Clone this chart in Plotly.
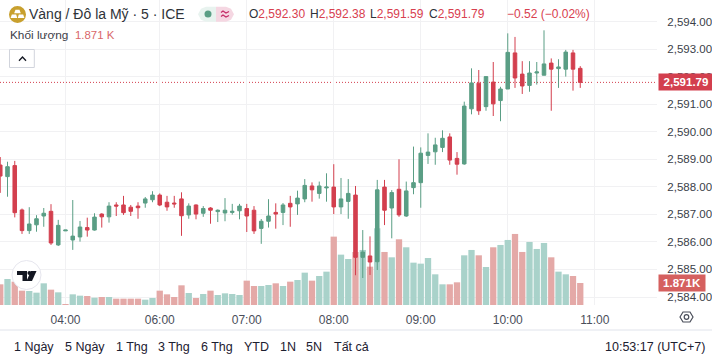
import plotly.graph_objects as go

opens = [2588.79,2588.37,2588.77,2587.16,2586.41,2586.62,2586.94,2587.11,2585.89,2586.40,
2586.07,2586.18,2586.52,2586.43,2587.01,2586.91,2587.34,2587.34,2587.26,2587.30,
2587.41,2587.53,2587.70,2587.44,2587.41,2587.56,2586.98,2587.34,2587.04,2587.23,
2587.10,2587.05,2587.07,2587.13,2587.21,2587.15,2586.49,2586.75,2587.07,2587.07,
2587.40,2587.38,2587.56,2588.03,2587.76,2587.96,2587.99,2587.27,2587.47,2587.70,
2585.44,2585.49,2585.28,2587.99,2587.23,2587.91,2586.94,2587.97,2588.15,2589.14,
2589.27,2589.43,2589.81,2589.03,2588.83,2590.83,2591.76,2590.91,2591.80,2591.13,
2591.55,2592.86,2592.09,2591.68,2592.13,2592.05,2592.49,2592.29,2592.27,2592.86,2592.30]
highs = [2589.08,2588.91,2588.94,2587.21,2587.26,2586.97,2587.23,2587.37,2586.80,2586.43,
2587.52,2586.76,2586.88,2587.04,2587.04,2587.44,2587.44,2587.67,2587.34,2587.44,
2587.63,2587.84,2587.76,2587.67,2587.67,2587.80,2587.40,2587.36,2587.30,2587.26,
2587.18,2587.59,2587.38,2587.38,2587.38,2587.30,2586.83,2587.55,2587.40,2587.41,
2587.67,2587.86,2588.28,2588.16,2588.19,2588.49,2588.82,2588.32,2588.28,2588.03,
2586.43,2586.20,2588.25,2588.25,2587.88,2589.00,2588.19,2589.46,2589.43,2589.94,
2589.78,2590.05,2589.94,2589.26,2591.09,2592.30,2592.24,2592.00,2592.53,2591.63,
2593.57,2593.44,2592.56,2592.56,2592.53,2593.68,2592.66,2592.63,2592.97,2592.97,2592.38]
lows = [2587.78,2587.64,2586.89,2586.29,2586.29,2586.37,2586.55,2585.89,2585.85,2586.40,
2585.71,2586.01,2586.19,2586.41,2586.52,2586.70,2586.94,2586.98,2586.94,2586.84,
2587.24,2587.44,2587.30,2587.13,2587.24,2586.22,2586.84,2586.82,2586.91,2586.66,
2586.72,2586.75,2586.99,2586.82,2586.36,2586.29,2585.93,2586.52,2586.48,2586.61,
2586.55,2586.98,2587.44,2587.46,2587.57,2587.46,2587.01,2587.01,2586.84,2584.79,
2584.69,2584.80,2584.98,2586.61,2586.13,2586.91,2586.91,2587.73,2587.24,2588.83,
2588.80,2589.26,2588.80,2588.44,2588.80,2590.63,2590.61,2590.76,2590.57,2590.38,
2591.55,2591.59,2591.37,2591.45,2591.71,2592.05,2590.76,2591.59,2592.00,2591.49,2591.59]
closes = [2588.39,2588.73,2587.06,2586.41,2586.65,2586.84,2587.04,2585.96,2586.60,2586.43,
2586.21,2586.54,2586.43,2586.90,2586.91,2587.30,2587.30,2587.06,2587.11,2587.24,
2587.56,2587.70,2587.34,2587.27,2587.38,2586.95,2587.30,2587.01,2587.21,2587.15,
2587.15,2587.15,2587.11,2587.30,2586.94,2586.40,2586.75,2586.94,2587.01,2587.34,
2587.27,2587.59,2588.05,2587.89,2588.03,2587.99,2587.27,2587.56,2587.76,2585.44,
2585.63,2585.27,2587.89,2587.15,2587.79,2586.98,2587.85,2588.15,2589.22,2589.26,
2589.52,2589.76,2588.97,2588.82,2590.93,2591.77,2590.76,2592.00,2591.01,2591.55,
2592.88,2591.95,2591.66,2592.13,2592.17,2592.46,2592.27,2592.35,2592.89,2592.27,2591.79]
volumes = [1758,2211,1985,1219,1191,1049,1843,1304,1077,85,
907,794,765,624,680,680,539,539,539,539,
454,595,1219,907,680,1673,1021,595,936,1219,
850,992,936,850,2070,1616,1616,1701,1843,1616,
1985,2126,2750,2070,2466,2835,5812,4281,3912,4508,
4678,3260,6520,4508,4054,5585,4905,3600,3515,3997,
2608,1758,1758,1928,4224,4678,4224,3232,4905,5103,
5528,6039,4508,5358,4763,5273,4054,2835,2608,2466,1871]
vol_dir = list("rgrrgggrgrggrgrgrrrrggrrrrgrgrggggrrggrgrggrggrggrgrgrgrggggggrrggrgrggrrgggrggrr")
price_ticks = [2584,2585,2586,2587,2588,2589,2590,2591,2592,2593,2594]
time_pos = [9,22,34,46,58,70,82]
time_labels = ["04:00","06:00","07:00","08:00","09:00","10:00","11:00"]
ranges = ["1 Ngày","5 Ngày","1 Thg","3 Thg","6 Thg","YTD","1N","5N","Tất cả"]
range_x = [13,64,115,157,200,243,279,305,333]
last_price = "2,591.79"
last_volume = "1.871K"

FONT = "Liberation Sans, Arial, sans-serif"
GREEN = "#5A9E85"; RED = "#D33F4E"
VGREEN = "#A9D2CA"; VRED = "#E4A9A7"
PW, PH = 657, 305
px = lambda x: x / PW
py = lambda y: 1 - y / PH

x = list(range(len(opens)))
fig = go.Figure()
fig.add_trace(go.Bar(x=x, y=volumes, yaxis="y", xaxis="x",
    marker=dict(color=[VGREEN if d == "g" else VRED for d in vol_dir], line=dict(width=0)),
    hoverinfo="skip", showlegend=False))
fig.add_trace(go.Candlestick(x=x, open=opens, high=highs, low=lows, close=closes, yaxis="y2", xaxis="x",
    increasing=dict(line=dict(color=GREEN, width=1), fillcolor=GREEN),
    decreasing=dict(line=dict(color=RED, width=1), fillcolor=RED),
    whiskerwidth=0, hoverinfo="skip", showlegend=False))

ann = []
def text(x_, y_, t, size=12, color="#131722", anchor="left", family=FONT):
    ann.append(dict(xref="paper", yref="paper", x=px(x_), y=py(y_), text=t, showarrow=False,
        xanchor=anchor, yanchor="middle", align=anchor, xshift=0, yshift=0, borderpad=0,
        font=dict(size=size, color=color, family=family)))

text(27.5, 14, "Vàng / Đô la Mỹ · 5 · ICE", 14, "#2E3238")
R = "#D8404F"
def s(c, t): return f'<span style="color:{c}">{t}</span>'
text(248, 14, "O" + s(R, "2,592.30"), 12, "#2E3238")
text(309, 14, "H" + s(R, "2,592.38"), 12, "#2E3238")
text(369, 14, "L" + s(R, "2,591.59"), 12, "#2E3238")
text(428, 14, "C" + s(R, "2,591.79"), 12, "#2E3238")
text(506, 14, "−0.52 (−0.02%)", 12, R)
text(8.5, 35, "Khối lượng", 11.8, "#3C4048")
text(73.5, 35, "1.871 K", 11.4, "#D9676A")
for t, xp in zip(ranges, range_x):
    text(xp, 347, t, 12.5, "#1C2030")
text(706, 347, "10:53:17 (UTC+7)", 12.5, "#1C2030", "right")

# axis value tags driven by the data
ann.append(dict(xref="paper", yref="y2", x=1, xshift=1, y=closes[-1], text=f"<b>{last_price}</b>", showarrow=False,
    xanchor="left", yanchor="middle", bgcolor=RED, width=54, height=16, align="center", borderpad=0,
    font=dict(size=11.5, color="white", family=FONT)))
ann.append(dict(xref="paper", yref="y", x=1, xshift=1, y=volumes[-1], text=f"<b>{last_volume}</b>", showarrow=False,
    xanchor="left", yanchor="middle", bgcolor="#D5605F", width=46, height=16, align="center", borderpad=0,
    font=dict(size=11.5, color="white", family=FONT)))

shapes = []
def circ(cx, cy, r, fill, line=None, lw=0):
    shapes.append(dict(type="circle", xref="paper", yref="paper", x0=px(cx-r), x1=px(cx+r), y0=py(cy-r), y1=py(cy+r),
        fillcolor=fill, line=dict(color=line or fill, width=lw), layer="above"))
def path(points, fill=None, line=None, lw=1.2, close=True):
    d = "M " + " L ".join(f"{px(a):.5f},{py(b):.5f}" for a, b in points) + (" Z" if close else "")
    shapes.append(dict(type="path", xref="paper", yref="paper", path=d,
        fillcolor=fill or "rgba(0,0,0,0)", line=dict(color=line or "rgba(0,0,0,0)", width=lw), layer="above"))

# last price dotted line
shapes.append(dict(type="line", xref="paper", yref="y2", x0=0, x1=1, y0=closes[-1], y1=closes[-1],
    line=dict(color=RED, width=1, dash="1px,2px"), layer="below"))
# bottom separator
shapes.append(dict(type="line", xref="paper", yref="paper", x0=0, x1=712/PW, y0=py(330), y1=py(330),
    line=dict(color="#E0E3EB", width=1), layer="above"))
# gold icon
circ(17.5, 14.5, 8.5, "#C8A02E")
path([(15.5,9.8),(19.5,9.8),(20.8,13.2),(14.2,13.2)], "white")
path([(11.8,14.6),(16.2,14.6),(17.2,18),(10.6,18)], "white")
path([(18.8,14.6),(23.2,14.6),(24.4,18),(17.8,18)], "white")
# status pill
path([(206,6.7),(216,6.7),(216,21.7),(206,21.7),(201,19.7),(198,14.2),(201,8.7)], "#E8F3EF")
path([(216,6.7),(226,6.7),(231,8.7),(234,14.2),(231,19.7),(226,21.7),(216,21.7)], "#F5D7E2")
circ(208, 14, 3.5, "#5A9E85")
path([(221,12.5),(223,11),(226,13),(229,11.5)], None, "#C42A66", 1.2, False)
path([(221,16.5),(223,15),(226,17),(229,15.5)], None, "#C42A66", 1.2, False)
# collapse button
shapes.append(dict(type="rect", xref="paper", yref="paper", x0=px(9.5), x1=px(34.3), y0=py(49.5), y1=py(67.5),
    fillcolor="white", line=dict(color="#D1D4DC", width=1), layer="above"))
path([(19,60.7),(22.5,57),(26,60.7)], None, "#131722", 1.3, False)
# TV logo
circ(26.5, 275, 14.5, "white", "#E6E6EE", 1)
path([(17,271),(27,271),(27,281),(22.5,281),(22.5,275),(17,275)], "#131722")
path([(31,271),(36.5,271),(32,281),(26.5,281)], "#131722")
circ(29.5, 273, 2.1, "#131722")
# settings icon
path([(680,317),(683,312),(690,312),(693,317),(690,322),(683,322)], None, "#4A4E5A", 1.2)
circ(686.5, 317, 2.3, "white", "#4A4E5A", 1.2)

fig.update_layout(
    width=712, height=361, autosize=False, paper_bgcolor="white", plot_bgcolor="white",
    margin=dict(l=0, r=712-PW, t=0, b=361-PH, autoexpand=False), showlegend=False, bargap=0.13, font=dict(family=FONT),
    xaxis=dict(range=[-0.034, (PW-0.25)/7.25], tickvals=time_pos, ticktext=time_labels, showgrid=True,
        gridcolor="#F1F1F3", gridwidth=1, zeroline=False, showline=False, ticks="outside", ticklen=4,
        tickcolor="rgba(0,0,0,0)", fixedrange=True,
        tickfont=dict(size=12, color="#4A4E5A", family=FONT), rangeslider=dict(visible=False)),
    yaxis=dict(range=[0, PH*85], visible=False, fixedrange=True, showgrid=False),
    yaxis2=dict(range=[2594-(PH-21.5)/27.55, 2594+21.5/27.55], overlaying="y", side="right", tickvals=price_ticks,
        tickformat=",.2f", showgrid=True, gridcolor="#F1F1F3", zeroline=False, showline=False, ticks="outside",
        ticklen=7, tickcolor="rgba(0,0,0,0)", tickfont=dict(size=11.5, color="#3A3E48", family=FONT), fixedrange=True),
    annotations=ann, shapes=shapes)
fig.write_html("out.html", config={"displayModeBar": False},
    post_script="document.body.style.margin='0';document.body.style.overflow='hidden';")
